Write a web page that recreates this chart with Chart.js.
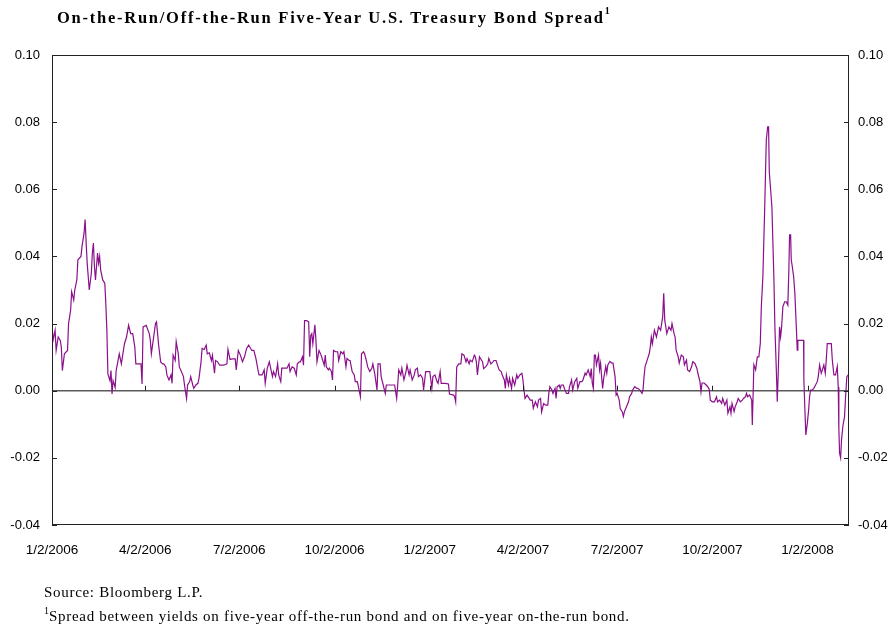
<!DOCTYPE html>
<html>
<head>
<meta charset="utf-8">
<script src="https://cdn.jsdelivr.net/npm/chart.js@4/dist/chart.umd.min.js"></script>
<style>
  html, body { margin: 0; padding: 0; background: #fff; }
  #wrap { position: relative; width: 892px; height: 627px; }
  #chart { position: absolute; left: 0; top: 0; }
  #title {
    position: absolute; left: 57px; top: 7px;
    font: bold 16.5px "Liberation Serif", "Times New Roman", serif;
    letter-spacing: 1.75px; color: #000; white-space: nowrap;
  }
  #title sup { font-size: 10px; position: relative; top: -2px; letter-spacing: 0; }
  #notes {
    position: absolute; left: 44px; top: 582px;
    font: 15px "Liberation Serif", "Times New Roman", serif;
    letter-spacing: 0.7px; line-height: 20px; color: #000; white-space: nowrap;
  }
  #notes sup { font-size: 10px; position: relative; top: -1px; letter-spacing: 0; }
</style>
</head>
<body>
<div id="wrap">
  <canvas id="chart" width="892" height="627"></canvas>
  <div id="title">On-the-Run/Off-the-Run Five-Year U.S. Treasury Bond Spread<sup>1</sup></div>
  <div id="notes">
    Source: Bloomberg L.P.<br>
    <sup>1</sup>Spread between yields on five-year off-the-run bond and on five-year on-the-run bond.
  </div>
</div>

<script>
// x axis: calendar days after 1/2/2006
const tickDays = [0, 90, 181, 273, 365, 455, 546, 638, 730];
const tickLabels = ['1/2/2006', '4/2/2006', '7/2/2006', '10/2/2006', '1/2/2007',
  '4/2/2007', '7/2/2007', '10/2/2007', '1/2/2008'];

// 2006 Q1
const days = [
  0, 1, 3, 4, 6, 8, 9, 10, 12, 15, 16, 18, 19, 21, 22, 24, 25, 28, 29, 31,
  32, 33, 34, 35, 36, 38, 39, 40, 41, 42, 44, 45, 46, 47, 49, 51, 52, 53, 54, 56,
  57, 58, 59, 61, 62, 65, 67, 68, 70, 72, 74, 76, 78, 80, 81, 86, 87, 88, 91,
  // 2006 Q2
  94, 95, 96, 98, 100, 101, 102, 103, 105, 107, 108, 110, 111, 113, 115, 116, 117, 119, 120, 122,
  123, 125, 127, 128, 130, 131, 133, 134, 136, 137, 139, 141, 142, 144, 145, 147, 149, 150, 152, 154,
  155, 157, 158, 160, 162, 164, 166, 169, 170, 172, 174, 177, 178, 180,
  // 2006 Q3
  182, 184, 186, 188, 190, 193, 195, 197, 199, 200, 203, 205, 206, 208, 210, 211, 213, 214, 216, 218,
  219, 221, 222, 224, 227, 229, 230, 232, 234, 236, 237, 239, 240, 242, 243, 244, 246, 248, 249, 250,
  251, 252, 254, 255, 256, 258, 260, 261, 263, 264, 265, 267, 268, 270, 271, 272,
  // 2006 Q4
  274, 276, 277, 279, 281, 282, 284, 285, 287, 288, 290, 292, 293, 295, 296, 298, 299, 301, 302, 304,
  305, 307, 309, 310, 312, 314, 315, 317, 318, 320, 322, 323, 328, 331, 333, 334, 335, 337, 338, 340,
  342, 343, 345, 346, 348, 350, 351, 353, 354, 356, 358, 359, 361, 363, 365,
  // 2007 Q1
  367, 368, 370, 372, 373, 375, 376, 380, 383, 384, 388, 389, 390, 391, 393, 395, 396, 398, 400, 401,
  403, 404, 406, 408, 409, 410, 411, 413, 414, 416, 417, 419, 421, 422, 424, 426, 427, 429, 430, 432,
  434, 435, 437, 438, 439, 441, 442, 444, 445, 447, 449, 450, 452, 454,
  // 2007 Q2
  455, 456, 457, 459, 461, 462, 464, 465, 467, 469, 470, 472, 473, 475, 477, 479, 480, 481, 483, 484,
  486, 487, 488, 490, 491, 492, 494, 495, 497, 499, 500, 502, 503, 505, 507, 508, 510, 512, 513, 515,
  516, 518, 520, 521, 522, 523, 524, 525, 526, 528, 529, 530, 531, 532, 533, 535, 536, 537, 539, 541,
  542, 544, 545,
  // 2007 Q3
  546, 548, 549, 551, 552, 553, 555, 557, 558, 560, 561, 563, 565, 566, 568, 570, 571, 572, 573, 575,
  577, 578, 579, 580, 582, 584, 586, 588, 590, 591, 592, 594, 596, 598, 599, 601, 602, 603, 605, 606,
  608, 610, 611, 613, 614, 616, 618, 619, 621, 623, 624, 626, 627, 628, 630, 632, 634, 635, 636,
  // 2007 Q4
  638, 640, 642, 643, 645, 647, 648, 650, 652, 653, 655, 656, 657, 659, 660, 662, 663, 665, 667, 668,
  670, 671, 672, 674, 676, 676.6, 678.1, 679.8, 681.4, 682.9, 684.3, 685.3, 686.8, 688.5, 690.1, 691.4,
  692.3, 693.0, 694.3, 695.5, 696.5, 697.4, 698.4, 699.8, 700.7, 701.7, 702.9, 703.9, 704.9, 706.1,
  707.8, 709.4, 710.9, 711.9, 712.6, 713.6, 714.2, 715.2, 716.5, 717.7, 719.1, 720, 720.6, 726.1, 726.4,
  727.4, 728.3, 729.7,
  // 2008
  731, 731.9, 732.9, 734.5, 736, 737.7, 739.3, 740.3, 741.6, 743.2, 744.8, 745.7, 747.1, 748, 749,
  751.2, 752.9, 753.9, 755.4, 757, 758.7, 759.6, 760.2, 760.9, 761.9, 762.8, 764.1, 765.7, 766.7,
  767.9, 769.3
];

const spread = [
  0.020, 0.015, 0.018, 0.012, 0.016, 0.015, 0.013, 0.006, 0.011, 0.012, 0.020, 0.024, 0.0295, 0.027, 0.030, 0.033, 0.039, 0.040, 0.043, 0.047,
  0.051, 0.044, 0.038, 0.034, 0.030, 0.035, 0.041, 0.044, 0.037, 0.033, 0.041, 0.038, 0.040, 0.036, 0.033, 0.032, 0.026, 0.018, 0.005, 0.003,
  0.006, -0.001, 0.003, 0.001, 0.006, 0.011, 0.008, 0.010, 0.014, 0.016, 0.0195, 0.017, 0.017, 0.013, 0.008, 0.008, 0.002, 0.019, 0.0195,
  // 2006 Q2
  0.017, 0.015, 0.011, 0.0155, 0.020, 0.0205, 0.017, 0.0136, 0.0086, 0.008, 0.008, 0.0071, 0.0047, 0.0032, 0.0047, 0.0022, 0.0106, 0.009, 0.0146, 0.011,
  0.0071, 0.0057, 0.0042, 0.0017, -0.0023, 0.0017, 0.0027, 0.0042, 0.0017, 0.0007, 0.0017, 0.0022, 0.0037, 0.0086, 0.0126, 0.0123, 0.0136, 0.011, 0.0113, 0.009,
  0.0106, 0.0052, 0.009, 0.0086, 0.0076, 0.0076, 0.0076, 0.008, 0.0123, 0.0093, 0.0095, 0.0095, 0.0062, 0.012,
  // 2006 Q3
  0.0106, 0.0086, 0.0101, 0.0126, 0.0136, 0.012, 0.012, 0.0096, 0.0062, 0.0047, 0.0047, 0.0062, 0.0022, 0.0067, 0.0086, 0.0071, 0.0042, 0.0057, 0.0042, 0.008,
  0.0047, 0.0027, 0.0067, 0.0067, 0.0067, 0.008, 0.0057, 0.0071, 0.0067, 0.0047, 0.008, 0.0086, 0.0086, 0.0101, 0.0076, 0.0209, 0.0209, 0.0205, 0.0101, 0.0165,
  0.017, 0.014, 0.0196, 0.015, 0.0086, 0.012, 0.0106, 0.0096, 0.0076, 0.0106, 0.0071, 0.0062, 0.0067, 0.0057, 0.0032, 0.012,
  // 2006 Q4
  0.0116, 0.0116, 0.009, 0.0116, 0.011, 0.0116, 0.0071, 0.0096, 0.009, 0.009, 0.0057, 0.0047, 0.0027, 0.0027, 0.0012, -0.0018, 0.011, 0.0116, 0.011, 0.0086,
  0.0071, 0.0057, 0.0067, 0.008, 0.0047, 0.0002, 0.008, 0.008, 0.0042, 0.0017, -0.0008, 0.0017, 0.0017, 0.0017, -0.0023, 0.0017, 0.0062, 0.0047, 0.0067, 0.0032,
  0.0057, 0.0076, 0.0047, 0.0062, 0.0032, 0.0047, 0.0062, 0.0067, 0.0042, 0.0047, 0.0037, 0.0002, 0.0057, 0.0057, 0.0057,
  // 2007 Q1
  0.0007, 0.0042, 0.0047, 0.0027, 0.0022, 0.0057, 0.0022, 0.0022, 0.002, -0.001, -0.0013, -0.0018, -0.0033, 0.0071, 0.008, 0.008, 0.011, 0.0106, 0.0086, 0.0096,
  0.008, 0.0091, 0.0086, 0.0106, 0.0101, 0.0086, 0.0047, 0.0101, 0.0096, 0.0086, 0.0066, 0.0071, 0.008, 0.0096, 0.008, 0.0086, 0.009, 0.009, 0.008, 0.0062,
  0.0057, 0.0047, 0.0032, 0.0007, 0.0047, 0.0017, 0.0037, 0.0007, 0.0037, 0.0017, 0.0047, 0.0037, 0.0047, 0.0052,
  // 2007 Q2
  0.0032, 0.0002, -0.0023, -0.0013, -0.0023, -0.0028, -0.0028, -0.0052, -0.0033, -0.0048, -0.0028, -0.0023, -0.0063, -0.0038, -0.0043, -0.0043, -0.0008, 0.0012, 0.0002, -0.0008,
  0.0007, -0.0023, 0.0012, 0.0017, 0.0007, 0.0017, 0.0017, 0.0007, -0.0008, -0.0008, 0.0012, 0.0032, 0.0002, 0.0027, 0.0037, 0.0007, 0.0027, 0.0027, 0.0032, 0.0052,
  0.0047, 0.0062, 0.0042, 0.0066, 0.0022, 0.0007, 0.0106, 0.0106, 0.0077, 0.0106, 0.0062, 0.0082, 0.0042, 0.0007, 0.0037, 0.0072, 0.0052, 0.0077, 0.0087, 0.0082,
  0.0082, 0.0042, -0.0013,
  // 2007 Q3
  -0.0008, -0.0028, -0.0053, -0.0063, -0.0077, -0.0063, -0.0048, -0.0033, -0.0018, -0.0008, 0.0002, 0.0012, 0.0007, 0.0007, 0.0002, -0.0008, 0.0002, 0.0042, 0.0072, 0.0091,
  0.011, 0.013, 0.016, 0.014, 0.018, 0.016, 0.019, 0.018, 0.022, 0.029, 0.021, 0.017, 0.019, 0.018, 0.020, 0.017, 0.016, 0.0121, 0.0101, 0.0082,
  0.0106, 0.0101, 0.0077, 0.0091, 0.0062, 0.0057, 0.0072, 0.0086, 0.0082, 0.0067, 0.0052, 0.0027, -0.0003, 0.0023, 0.0023, 0.0017, 0.001, 0.0004, -0.0028,
  // 2007 Q4
  -0.0033, -0.0033, -0.0018, -0.0033, -0.0028, -0.0038, -0.0023, -0.0043, -0.0028, -0.0067, -0.0048, -0.0067, -0.0038, -0.0062, -0.0048, -0.0033, -0.0023, -0.0033, -0.0028, -0.0023,
  -0.0018, -0.0008, -0.0018, -0.0013, -0.0028, -0.0102, 0.0077, 0.0062, 0.0101, 0.0101, 0.0141, 0.025, 0.034, 0.0538, 0.0747, 0.0786,
  0.0786, 0.0652, 0.0598, 0.0548, 0.0439, 0.034, 0.019, 0.0062, -0.0033, 0.0059, 0.019, 0.016, 0.019, 0.025,
  0.0265, 0.0265, 0.0255, 0.036, 0.0464, 0.0464, 0.039, 0.037, 0.034, 0.029, 0.019, 0.0121, 0.015, 0.015, 0.0032,
  -0.0057, -0.0132, -0.0098,
  // 2008
  -0.0057, -0.0018, 0.0002, 0.0002, 0.0007, 0.0017, 0.0027, 0.0042, 0.0077, 0.0052, 0.0067, 0.0077, 0.0052, 0.0091, 0.014,
  0.014, 0.014, 0.0091, 0.0047, 0.0047, 0.0072, 0.001, -0.0112, -0.0186, -0.020, -0.0145, -0.0105, -0.0077, -0.0018,
  0.0042, 0.0047
];

const tickFont = { family: '"Liberation Sans", Arial, sans-serif', size: 13 };

// 테두리, 안쪽 눈금, 0선 위 분기 눈금
const framePlugin = {
  id: 'frame',
  afterDraw(chart) {
    const { ctx, chartArea: a, scales } = chart;
    ctx.save();
    ctx.strokeStyle = '#222';
    ctx.lineWidth = 1;
    ctx.strokeRect(a.left + 0.5, a.top + 0.5, a.right - a.left - 1, a.bottom - a.top - 1);

    ctx.beginPath();
    scales.y.ticks.forEach(t => {
      const py = Math.round(scales.y.getPixelForValue(t.value)) + 0.5;
      ctx.moveTo(a.left, py); ctx.lineTo(a.left + 5, py);
      ctx.moveTo(a.right - 5, py); ctx.lineTo(a.right, py);
    });
    const y0 = scales.y.getPixelForValue(0);
    tickDays.forEach(d => {
      const px = Math.round(scales.x.getPixelForValue(d)) + 0.5;
      ctx.moveTo(px, y0); ctx.lineTo(px, y0 - 5);
    });
    ctx.stroke();
    ctx.restore();
  }
};

const yTicks = {
  stepSize: 0.02,
  color: '#000',
  font: tickFont,
  callback: v => v.toFixed(2)
};

new Chart(document.getElementById('chart'), {
  type: 'line',
  data: {
    datasets: [{
      data: days.map((d, i) => ({ x: d, y: spread[i] })),
      borderColor: '#8b108b',
      borderWidth: 1.2,
      pointRadius: 0,
      tension: 0,
      fill: false,
      yAxisID: 'y'
    }]
  },
  options: {
    responsive: false,
    animation: false,
    layout: { padding: { top: 55, left: 0, right: 0, bottom: 0 } },
    plugins: {
      legend: { display: false },
      tooltip: { enabled: false }
    },
    scales: {
      x: {
        type: 'linear',
        min: 0,
        max: 770,
        grid: { display: false },
        border: { display: false },
        afterBuildTicks: s => { s.ticks = tickDays.map(v => ({ value: v })); },
        afterFit: s => { s.height = 102; },
        ticks: {
          autoSkip: false,
          maxRotation: 0,
          padding: 9,
          color: '#000',
          font: { ...tickFont, size: 13.5 },
          callback: v => tickLabels[tickDays.indexOf(v)]
        }
      },
      y: {
        position: 'left',
        min: -0.04,
        max: 0.10,
        border: { display: false },
        grid: {
          drawTicks: false,
          lineWidth: 1.6,
          color: c => Math.abs(c.tick.value) < 1e-9 ? '#5a5a5a' : 'rgba(0,0,0,0)'
        },
        afterFit: s => { s.width = 52; },
        ticks: { ...yTicks, padding: 12 }
      },
      y2: {
        position: 'right',
        min: -0.04,
        max: 0.10,
        border: { display: false },
        grid: { display: false, drawTicks: false },
        afterFit: s => { s.width = 43; },
        ticks: { ...yTicks, padding: 9 }
      }
    }
  },
  plugins: [framePlugin]
});
</script>
</body>
</html>
